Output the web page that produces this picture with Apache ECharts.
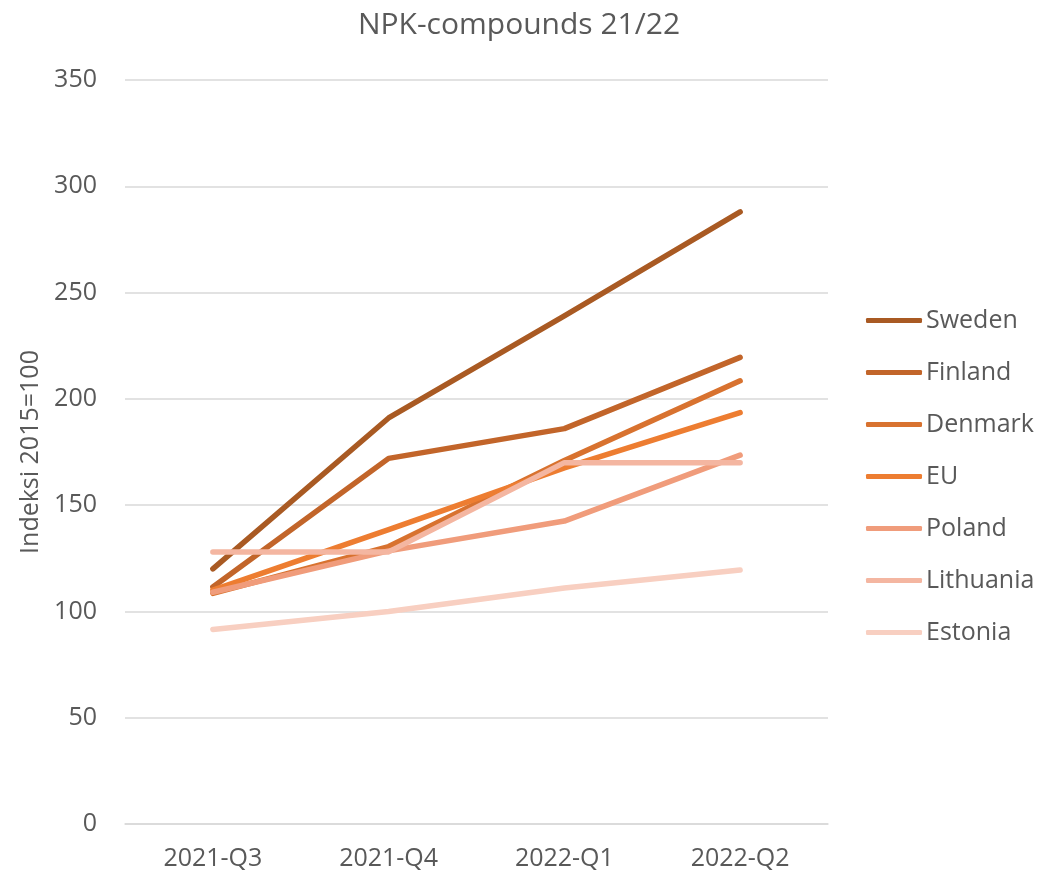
<!DOCTYPE html>
<html>
  <head>
    <meta charset="UTF-8" />
    <title>NPK-compounds 21/22</title>
    <style>
      html, body { margin: 0; padding: 0; background: #fff; }
      #main { width: 1038px; height: 875px; }
    </style>
  </head>
  <body>
    <div id="main"></div>
    <script src="https://cdn.jsdelivr.net/npm/echarts@6/dist/echarts.min.js"></script>
    <script>
      const quarters = ['2021-Q3', '2021-Q4', '2022-Q1', '2022-Q2']

      const sweden = [120, 191, 239, 288]
      const finland = [111.5, 172, 186, 219.5]
      const denmark = [108.5, 130.5, 171, 208.5]
      const eu = [110, 138.5, 167.5, 193.5]
      const poland = [109, 128.5, 142.5, 173.5]
      const lithuania = [128, 128, 170, 170]
      const estonia = [91.5, 100, 111, 119.5]

      const names = ['Sweden', 'Finland', 'Denmark', 'EU', 'Poland', 'Lithuania', 'Estonia']
      const values = [sweden, finland, denmark, eu, poland, lithuania, estonia]
      const colors = ['#A95A23', '#C2652A', '#D8722F', '#ED7D31', '#F09C7B', '#F4B6A1', '#F8CFC1']

      const font = '"Open Sans", "Noto Sans", sans-serif'
      const textColor = '#595959'

      const chart = echarts.init(document.getElementById('main'))
      chart.setOption({
        animation: false,
        title: {
          text: 'NPK-compounds 21/22',
          left: 519,
          textAlign: 'center',
          top: 10,
          padding: 0,
          textStyle: { fontFamily: font, fontSize: 30, fontWeight: 'normal', color: textColor },
        },
        grid: { left: 125, right: 210, top: 80, bottom: 51 },
        legend: {
          orient: 'vertical',
          left: 866,
          top: 308,
          padding: 0,
          itemWidth: 56,
          itemHeight: 5,
          itemGap: 27,
          icon: 'roundRect',
          data: names,
          textStyle: { fontFamily: font, fontSize: 25, color: textColor, padding: [0, 0, 0, -1] },
        },
        xAxis: {
          type: 'category',
          data: quarters,
          boundaryGap: true,
          axisLine: { lineStyle: { color: '#d9d9d9', width: 1.5 } },
          axisTick: { show: false },
          axisLabel: { fontFamily: font, fontSize: 25, color: textColor, margin: 22 },
        },
        yAxis: {
          type: 'value',
          min: 0,
          max: 350,
          interval: 50,
          name: 'Indeksi 2015=100',
          nameLocation: 'middle',
          nameGap: 82,
          nameTextStyle: { fontFamily: font, fontSize: 25, color: textColor },
          axisLine: { show: false },
          axisTick: { show: false },
          splitLine: { lineStyle: { color: '#d9d9d9', width: 1.5 } },
          axisLabel: { fontFamily: font, fontSize: 25, color: textColor, margin: 28 },
        },
        series: names.map((name, i) => ({
          name: name,
          type: 'line',
          data: values[i],
          symbol: 'none',
          color: colors[i],
          lineStyle: { width: 5.5, color: colors[i], cap: 'round', join: 'round' },
          z: 2 + i,
        })),
      })
    </script>
  </body>
</html>
